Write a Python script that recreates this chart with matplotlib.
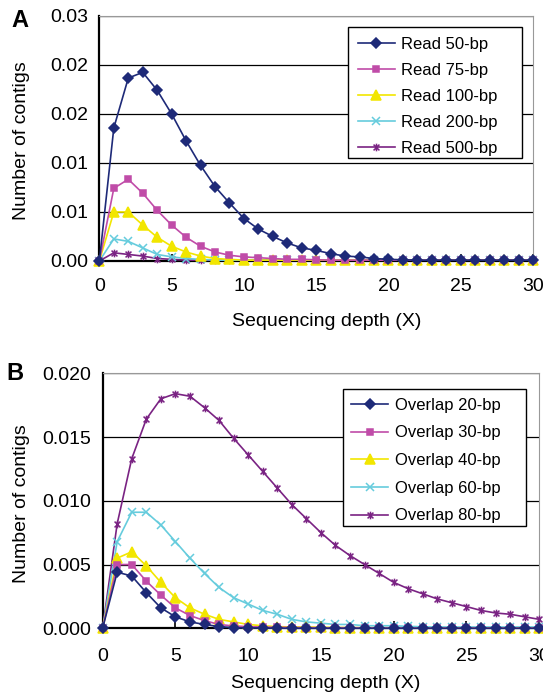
import matplotlib
matplotlib.use("Agg")
import matplotlib.pyplot as plt
from matplotlib.path import Path
from matplotlib.patches import Rectangle
from matplotlib.ticker import FormatStrFormatter, MultipleLocator
import numpy as np

plt.rcParams['font.family'] = ['Liberation Sans', 'DejaVu Sans']

depth = list(range(31))

# Panel A - read length
read_labels = ["Read 50-bp", "Read 75-bp", "Read 100-bp", "Read 200-bp", "Read 500-bp"]
read_50 = [0, 0.0163, 0.0224, 0.0231, 0.0209, 0.0180, 0.0147, 0.0117, 0.0091, 0.0071,
           0.0052, 0.0039, 0.0030, 0.0022, 0.0016, 0.0013, 0.0009, 0.0006, 0.0005, 0.0003,
           0.0002, 0.00015, 0.0001, 0.0001, 0.0001, 0.0001, 0.0001, 0.0001, 0.0001, 0.0001, 0.0001]
read_75 = [0, 0.0089, 0.0100, 0.0083, 0.0062, 0.0044, 0.0029, 0.0018, 0.0011, 0.0007,
           0.0005, 0.0004, 0.0003, 0.0002, 0.0002, 0.00015, 0.0001, 0.0001, 0.0001, 0.0001,
           0.0001, 0.0001, 0.0001, 0.0001, 0.0001, 0.0001, 0.0001, 0.0001, 0.0001, 0.0001, 0.0001]
read_100 = [0, 0.0060, 0.0060, 0.0044, 0.0029, 0.0018, 0.0011, 0.0006, 0.0003, 0.0002,
            0.0001, 0.0001, 0.0001, 0.0001, 0.0001, 0.0001, 0.0001, 0.0001, 0.0001, 0.0001,
            0.0001, 0.0001, 0.0001, 0.0001, 0.0001, 0.0001, 0.0001, 0.0001, 0.0001, 0.0001, 0.0001]
read_200 = [0, 0.0027, 0.0024, 0.0016, 0.0008, 0.0005, 0.0003, 0.0002, 0.0001, 0.0001,
            0.0001, 0.0001, 0.0001, 0.0001, 0.0001, 0.0001, 0.0001, 0.0001, 0.0001, 0.0001,
            0.0001, 0.0001, 0.0001, 0.0001, 0.0001, 0.0001, 0.0001, 0.0001, 0.0001, 0.0001, 0.0001]
read_500 = [0, 0.0010, 0.0008, 0.0006, 0.0003, 0.0002, 0.0001, 0.0001, 0.0001, 0.0001,
            0.0001, 0.0001, 0.0001, 0.0001, 0.0001, 0.0001, 0.0001, 0.0001, 0.0001, 0.0001,
            0.0001, 0.0001, 0.0001, 0.0001, 0.0001, 0.0001, 0.0001, 0.0001, 0.0001, 0.0001, 0.0001]

# Panel B - overlap length
overlap_labels = ["Overlap 20-bp", "Overlap 30-bp", "Overlap 40-bp", "Overlap 60-bp", "Overlap 80-bp"]
ovl_20 = [0, 0.0044, 0.0041, 0.0028, 0.0016, 0.0009, 0.0005, 0.0003, 0.00013, 0.00005,
          0.00003, 0.00002, 0.00001, 0, 0, 0, 0, 0, 0, 0, 0, 0, 0, 0, 0, 0, 0, 0, 0, 0, 0]
ovl_30 = [0, 0.0050, 0.0050, 0.0037, 0.0026, 0.0016, 0.0010, 0.0006, 0.0003, 0.00018,
          0.00013, 0.0001, 0.00008, 0.00006, 0.00005, 0.00004, 0.00003, 0.00003, 0.00002, 0.00002,
          0.00002, 0.00002, 0.00002, 0.00002, 0.00002, 0.00002, 0.00002, 0.00002, 0.00002, 0.00002, 0.00002]
ovl_40 = [0, 0.0055, 0.0060, 0.0049, 0.0036, 0.0024, 0.0016, 0.0011, 0.0007, 0.0005,
          0.0003, 0.0002, 0.00013, 0.0001, 0.0001, 0.00008, 0.00006, 0.00005, 0.00004, 0.00004,
          0.00003, 0.00003, 0.00003, 0.00003, 0.00003, 0.00003, 0.00003, 0.00003, 0.00003, 0.00003, 0.00003]
ovl_60 = [0, 0.0068, 0.0091, 0.0091, 0.0081, 0.0068, 0.0055, 0.0043, 0.0032, 0.0024,
          0.0019, 0.0014, 0.0011, 0.0007, 0.0005, 0.0004, 0.0003, 0.0003, 0.0002, 0.0002,
          0.0002, 0.00015, 0.00012, 0.0001, 0.0001, 0.0001, 0.0001, 0.0001, 0.0001, 0.0001, 0.0001]
ovl_80 = [0, 0.0082, 0.0133, 0.0164, 0.0180, 0.0184, 0.0182, 0.0173, 0.0163, 0.0149,
          0.0136, 0.0123, 0.0110, 0.0097, 0.0086, 0.0075, 0.0065, 0.0057, 0.0050, 0.0043,
          0.0036, 0.0031, 0.0027, 0.0023, 0.0020, 0.0017, 0.0014, 0.0012, 0.0011, 0.0009, 0.0007]

colors = ["#1E2A78", "#C04CA8", "#F2E600", "#66CCDD", "#7A2383"]

# excel style star: an x with a vertical bar
star = Path([(-1, -1), (1, 1), (-1, 1), (1, -1), (0, -1.3), (0, 1.3)],
            [Path.MOVETO, Path.LINETO, Path.MOVETO, Path.LINETO, Path.MOVETO, Path.LINETO])
markers = ["D", "s", "^", "x", star]
msizes = [5, 5, 6.5, 5.5, 5.5]


def draw_panel(ax, series, labels, ymax, ystep, yfmt, frame, tick_pad, ylab_x, xlab_pos,
               lspace, bpad):
    for i, (vals, lab) in enumerate(zip(series, labels)):
        face = 'none' if i >= 3 else colors[i]
        ax.plot(depth, vals, color=colors[i], lw=1.2, marker=markers[i], ms=msizes[i],
                mfc=face, mec=colors[i], mew=1.1, label=lab, clip_on=False, zorder=3 + (4 - i) * 0.1)
    ax.set_xlim(0, 30)
    ax.set_ylim(0, ymax)
    ax.xaxis.set_major_locator(MultipleLocator(5))
    ax.yaxis.set_major_locator(MultipleLocator(ystep))
    ax.yaxis.set_major_formatter(FormatStrFormatter(yfmt))
    ax.grid(axis='y', color='black', lw=0.9)
    ax.set_axisbelow(True)
    for s in ['top', 'right']:
        ax.spines[s].set_color('#999999')
    ax.spines['left'].set_linewidth(1.6)
    ax.spines['bottom'].set_linewidth(1.6)
    ax.tick_params(axis='x', direction='in', length=5, width=1.2, labelsize=14, pad=tick_pad)
    ax.tick_params(axis='y', length=0, labelsize=14, pad=8)
    ax.set_ylabel("Number of contigs", fontsize=14)
    ax.yaxis.set_label_coords(ylab_x, 0.49)
    ax.set_xlabel("Sequencing depth (X)", fontsize=14)
    ax.xaxis.set_label_coords(*xlab_pos)
    # legend box drawn by hand so the right padding matches
    x0, y0, x1, y1 = frame
    ax.add_patch(Rectangle((x0, y0), x1 - x0, y1 - y0, transform=ax.transAxes,
                           facecolor='white', edgecolor='black', lw=1.0, zorder=4.5))
    ax.legend(loc='upper left', bbox_to_anchor=(x0, y1), frameon=False,
              fontsize=12, handlelength=2.2, handletextpad=0.4,
              labelspacing=lspace, borderpad=bpad, borderaxespad=0)


fig = plt.figure(figsize=(5.43, 6.95), dpi=100)
ax_a = fig.add_axes([0.183, 0.6245, 0.7987, 0.3525])
ax_b = fig.add_axes([0.189, 0.096, 0.8041, 0.3669])

draw_panel(ax_a, [read_50, read_75, read_100, read_200, read_500], read_labels,
           0.03, 0.006, '%.2f', (0.574, 0.4216, 0.974, 0.954), 12, -0.16, (0.523, -0.212),
           0.66, 0.58)
draw_panel(ax_b, [ovl_20, ovl_30, ovl_40, ovl_60, ovl_80], overlap_labels,
           0.02, 0.005, '%.3f', (0.5497, 0.401, 0.9695, 0.938), 14, -0.166, (0.511, -0.183),
           0.76, 0.52)

fig.text(0.037, 0.970, "A", fontsize=17, fontweight='bold', ha='center', va='center')
fig.text(0.028, 0.463, "B", fontsize=17, fontweight='bold', ha='center', va='center')

fig.savefig("out.png", dpi=100)
